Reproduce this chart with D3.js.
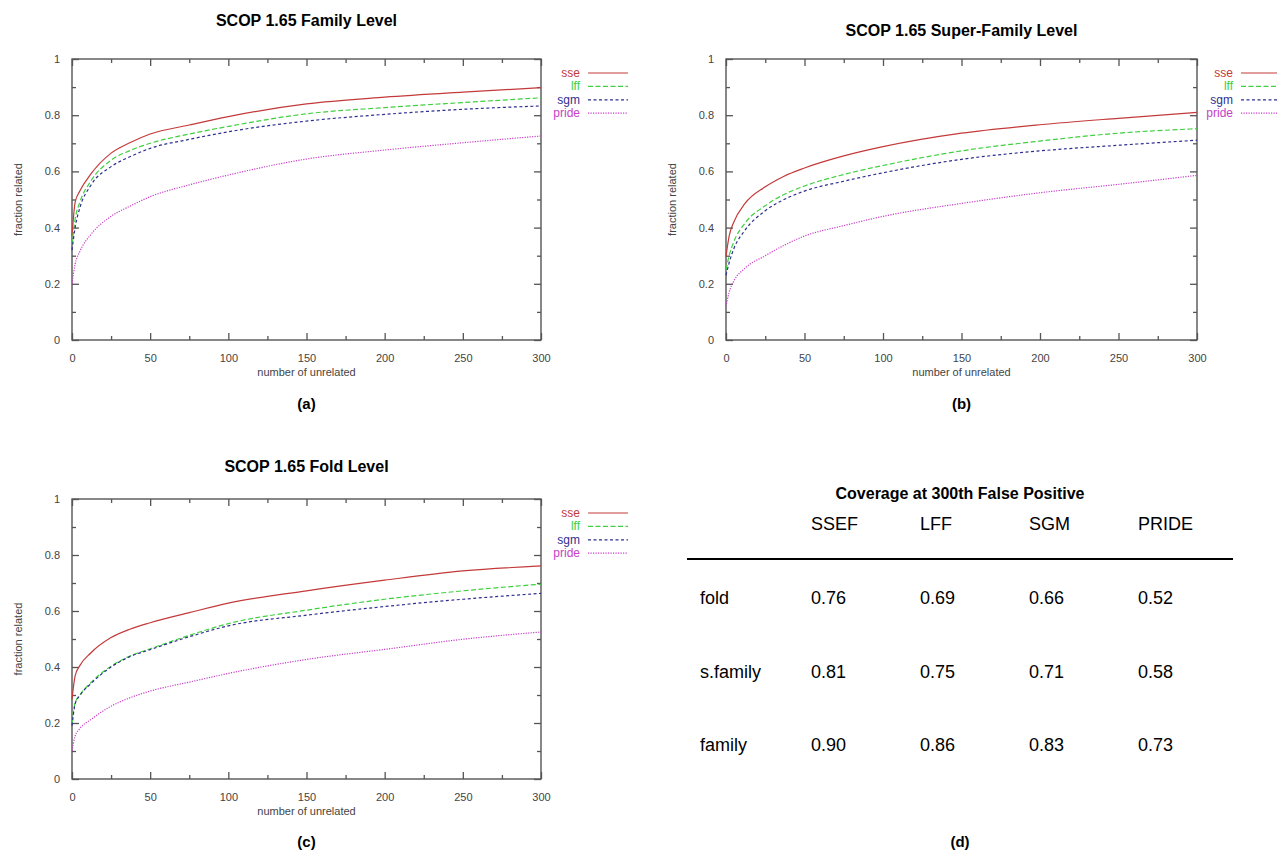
<!DOCTYPE html>
<html>
<head>
<meta charset="utf-8">
<script src="https://cdn.jsdelivr.net/npm/d3@7"></script>
<style>
  body { margin: 0; background: #fff; font-family: "Liberation Sans", Arial, sans-serif; }
  svg text { font-family: "Liberation Sans", Arial, sans-serif; }
</style>
</head>
<body>
<div id="chart"></div>
<script>
// sample positions along "number of unrelated"
const xValues = [0, 2, 5, 12, 25, 37, 50, 75, 100, 150, 200, 250, 300];

// SCOP 1.65 family level
const familySse   = [0.37, 0.49, 0.53, 0.59, 0.665, 0.702, 0.733, 0.765, 0.795, 0.84, 0.864, 0.882, 0.898];
const familyLff   = [0.34, 0.43, 0.49, 0.565, 0.64, 0.674, 0.70, 0.733, 0.76, 0.805, 0.827, 0.845, 0.862];
const familySgm   = [0.32, 0.40, 0.47, 0.55, 0.617, 0.652, 0.682, 0.714, 0.741, 0.779, 0.803, 0.821, 0.833];
const familyPride = [0.20, 0.27, 0.315, 0.375, 0.44, 0.476, 0.51, 0.552, 0.587, 0.644, 0.676, 0.702, 0.726];

// SCOP 1.65 super-family level
const superSse   = [0.298, 0.37, 0.42, 0.485, 0.545, 0.583, 0.612, 0.655, 0.688, 0.736, 0.766, 0.789, 0.81];
const superLff   = [0.25, 0.30, 0.35, 0.415, 0.478, 0.518, 0.548, 0.589, 0.621, 0.673, 0.708, 0.736, 0.752];
const superSgm   = [0.23, 0.275, 0.325, 0.39, 0.46, 0.50, 0.53, 0.565, 0.595, 0.643, 0.673, 0.693, 0.711];
const superPride = [0.12, 0.17, 0.21, 0.255, 0.30, 0.337, 0.37, 0.407, 0.44, 0.486, 0.524, 0.554, 0.586];

// SCOP 1.65 fold level
const foldSse   = [0.284, 0.368, 0.405, 0.45, 0.505, 0.535, 0.558, 0.594, 0.628, 0.672, 0.71, 0.743, 0.761];
const foldLff   = [0.20, 0.272, 0.30, 0.344, 0.403, 0.439, 0.465, 0.513, 0.555, 0.603, 0.642, 0.672, 0.696];
const foldSgm   = [0.19, 0.268, 0.298, 0.34, 0.40, 0.437, 0.462, 0.508, 0.547, 0.585, 0.616, 0.642, 0.663];
const foldPride = [0.10, 0.153, 0.18, 0.212, 0.26, 0.29, 0.314, 0.346, 0.377, 0.427, 0.463, 0.499, 0.525];

const seriesNames = ["sse", "lff", "sgm", "pride"];

// table (d)
const tableColumns = ["SSEF", "LFF", "SGM", "PRIDE"];
const tableRows = ["fold", "s.family", "family"];
const tableValues = [
  ["0.76", "0.69", "0.66", "0.52"],
  ["0.81", "0.75", "0.71", "0.58"],
  ["0.90", "0.86", "0.83", "0.73"]
];

const xMajor = [0, 50, 100, 150, 200, 250, 300];
const xMinor = [25, 75, 125, 175, 225, 275];
const yMajor = [0, 0.2, 0.4, 0.6, 0.8, 1];
const yMinor = [0.1, 0.3, 0.5, 0.7, 0.9];

const styles = {
  sse:   { color: "#c43a3a", dash: null },
  lff:   { color: "#3fcf3f", dash: "5,2.5" },
  sgm:   { color: "#2f2f8f", dash: "3,2.5" },
  pride: { color: "#c83ec8", dash: "1.2,1.3" }
};

const W = 1277, H = 854;
const svg = d3.select("#chart").append("svg")
  .attr("width", W).attr("height", H)
  .attr("viewBox", `0 0 ${W} ${H}`);

function drawPanel({ left, top, width, height, title, titleY, caption, captionY, series, legendX, legendY }) {
  const g = svg.append("g").attr("transform", `translate(${left},${top})`);
  const x = d3.scaleLinear().domain([0, 300]).range([0, width]);
  const y = d3.scaleLinear().domain([0, 1]).range([height, 0]);

  // frame
  g.append("rect")
    .attr("width", width).attr("height", height)
    .attr("fill", "none").attr("stroke", "#555").attr("stroke-width", 1.4);

  const styleAxis = sel => {
    sel.select(".domain").remove();
    sel.selectAll(".tick line").attr("stroke", "#555").attr("stroke-width", 1.3);
    sel.selectAll(".tick text").attr("fill", "#444").style("font-size", "11px");
  };

  // bottom / left with labels, ticks pointing inward
  g.append("g").attr("transform", `translate(0,${height})`)
    .call(d3.axisBottom(x).tickValues(xMajor).tickSize(-7).tickPadding(14).tickFormat(d3.format("d")))
    .call(styleAxis);
  g.append("g").attr("transform", `translate(0,${height})`)
    .call(d3.axisBottom(x).tickValues(xMinor).tickSize(-4).tickFormat(""))
    .call(styleAxis);
  g.append("g")
    .call(d3.axisLeft(y).tickValues(yMajor).tickSize(-7).tickPadding(12).tickFormat(d => d === 0 || d === 1 ? d : d.toFixed(1)))
    .call(styleAxis);
  g.append("g")
    .call(d3.axisLeft(y).tickValues(yMinor).tickSize(-4).tickFormat(""))
    .call(styleAxis);

  // mirrored ticks on top / right
  g.append("g")
    .call(d3.axisTop(x).tickValues(xMajor).tickSize(-7).tickFormat(""))
    .call(styleAxis);
  g.append("g")
    .call(d3.axisTop(x).tickValues(xMinor).tickSize(-4).tickFormat(""))
    .call(styleAxis);
  g.append("g").attr("transform", `translate(${width},0)`)
    .call(d3.axisRight(y).tickValues(yMajor).tickSize(-7).tickFormat(""))
    .call(styleAxis);
  g.append("g").attr("transform", `translate(${width},0)`)
    .call(d3.axisRight(y).tickValues(yMinor).tickSize(-4).tickFormat(""))
    .call(styleAxis);

  // curves
  const line = d3.line()
    .x((d, i) => x(xValues[i]))
    .y(d => y(d))
    .curve(d3.curveMonotoneX);

  seriesNames.forEach((name, k) => {
    g.append("path")
      .datum(series[k])
      .attr("fill", "none")
      .attr("stroke", styles[name].color)
      .attr("stroke-width", 1.2)
      .attr("stroke-dasharray", styles[name].dash)
      .attr("d", line);
  });

  // axis titles
  g.append("text")
    .attr("x", width / 2).attr("y", height + 36)
    .attr("text-anchor", "middle")
    .attr("fill", "#444").style("font-size", "11px")
    .text("number of unrelated");
  g.append("text")
    .attr("transform", `translate(${-50},${height / 2}) rotate(-90)`)
    .attr("text-anchor", "middle")
    .attr("fill", "#444").style("font-size", "11px")
    .text("fraction related");

  // legend (outside, right of the frame)
  const lg = svg.append("g").attr("transform", `translate(${legendX},${legendY})`);
  seriesNames.forEach((name, k) => {
    const row = lg.append("g").attr("transform", `translate(0,${k * 13.4})`);
    row.append("text")
      .attr("x", 0).attr("y", 4)
      .attr("text-anchor", "end")
      .attr("fill", styles[name].color)
      .style("font-size", "12px")
      .text(name);
    row.append("line")
      .attr("x1", 8).attr("x2", 48)
      .attr("stroke", styles[name].color)
      .attr("stroke-width", 1.2)
      .attr("stroke-dasharray", styles[name].dash);
  });

  // title and caption
  svg.append("text")
    .attr("x", left + width / 2).attr("y", titleY)
    .attr("text-anchor", "middle")
    .style("font-size", "16px").style("font-weight", "bold")
    .text(title);
  svg.append("text")
    .attr("x", left + width / 2).attr("y", captionY)
    .attr("text-anchor", "middle")
    .style("font-size", "15px").style("font-weight", "bold")
    .text(caption);
}

drawPanel({
  left: 72, top: 59, width: 469, height: 281,
  title: "SCOP 1.65 Family Level", titleY: 26,
  caption: "(a)", captionY: 409,
  series: [familySse, familyLff, familySgm, familyPride],
  legendX: 580, legendY: 73
});

drawPanel({
  left: 726, top: 59, width: 471, height: 281,
  title: "SCOP 1.65 Super-Family Level", titleY: 36,
  caption: "(b)", captionY: 409,
  series: [superSse, superLff, superSgm, superPride],
  legendX: 1233, legendY: 73
});

drawPanel({
  left: 72, top: 499, width: 469, height: 280,
  title: "SCOP 1.65 Fold Level", titleY: 472,
  caption: "(c)", captionY: 847,
  series: [foldSse, foldLff, foldSgm, foldPride],
  legendX: 580, legendY: 513
});

// (d) coverage table
const colX = d3.scalePoint().domain(tableColumns).range([811, 1138]);
const rowY = d3.scalePoint().domain(tableRows).range([598, 745]);
const tg = svg.append("g");

tg.append("text")
  .attr("x", 960).attr("y", 499)
  .attr("text-anchor", "middle")
  .style("font-size", "16px").style("font-weight", "bold")
  .text("Coverage at 300th False Positive");

tg.selectAll("text.col").data(tableColumns).join("text")
  .attr("class", "col")
  .attr("x", d => colX(d)).attr("y", 530)
  .style("font-size", "18px")
  .text(d => d);

tg.append("line")
  .attr("x1", 687).attr("x2", 1233)
  .attr("y1", 559).attr("y2", 559)
  .attr("stroke", "#000").attr("stroke-width", 2);

tableRows.forEach((r, i) => {
  tg.append("text")
    .attr("x", 700).attr("y", rowY(r) + 6)
    .style("font-size", "18px")
    .text(r);
  tg.selectAll(null).data(tableValues[i]).join("text")
    .attr("x", (d, j) => colX(tableColumns[j])).attr("y", rowY(r) + 6)
    .style("font-size", "18px")
    .text(d => d);
});

svg.append("text")
  .attr("x", 960).attr("y", 847)
  .attr("text-anchor", "middle")
  .style("font-size", "15px").style("font-weight", "bold")
  .text("(d)");
</script>
</body>
</html>
